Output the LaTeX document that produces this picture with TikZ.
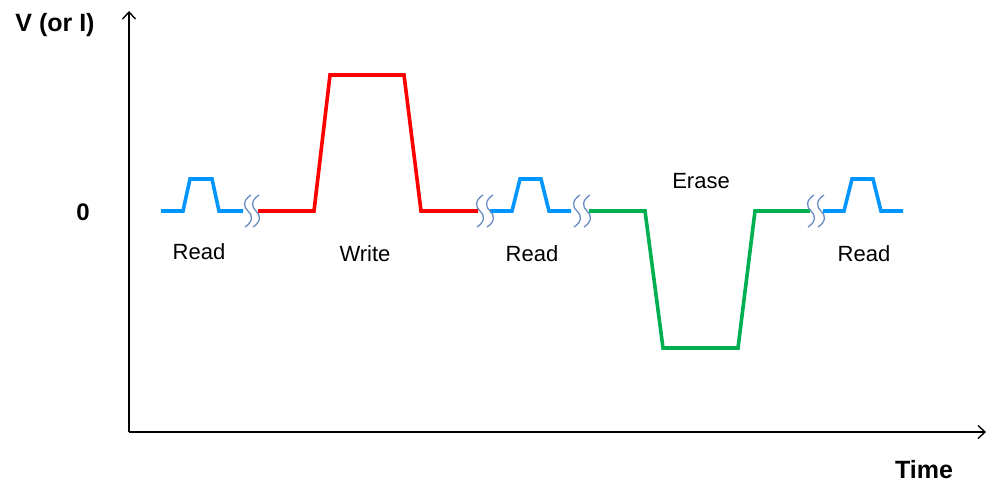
\documentclass[tikz,border=0pt]{standalone}
\usepackage{fontspec}
\setmainfont{Liberation Sans}
\usetikzlibrary{arrows.meta}

\definecolor{readblue}{RGB}{0,150,255}
\definecolor{writered}{RGB}{255,0,0}
\definecolor{erasegreen}{RGB}{0,176,80}
\definecolor{breakblue}{RGB}{105,140,195}

\tikzset{
  axis/.style={line width=1.4pt, -{Straight Barb[length=7pt,width=13pt,line width=1.4pt]}},
  pulse/.style={line width=3.6pt, line join=miter},
  readpulse/.style={pulse, draw=readblue},
  writepulse/.style={pulse, draw=writered},
  erasepulse/.style={pulse, draw=erasegreen},
  brk/.style={draw=breakblue, line width=1.3pt},
  lbl/.style={font=\fontsize{22}{26}\selectfont, inner sep=0pt},
  axlbl/.style={font=\fontsize{25}{29}\selectfont\bfseries, inner sep=0pt}
}

% a small "S" shaped break mark centred at x = #1 on the zero level
\newcommand{\breakmark}[1]{%
  \draw[brk] (#1+3,195) .. controls (#1-5,200) and (#1-5,207) .. (#1,211)
                        .. controls (#1+5,215) and (#1+5,222) .. (#1-3,227);}

\begin{document}
\begin{tikzpicture}[x=1pt,y=-1pt]
  \useasboundingbox (0,0) rectangle (987,484);

  % axes
  \coordinate (origin) at (129,432);
  \coordinate (ytip) at (129,11);
  \coordinate (xtip) at (986,432);
  \draw[axis] (origin) -- (ytip);
  \draw[axis] (origin) -- (xtip);

  % axis labels
  \node[axlbl] (vlabel) at (55,25) {V (or I)};
  \node[axlbl, font=\fontsize{24}{28}\selectfont\bfseries] (zero) at (83,212) {0};
  \node[axlbl] (tlabel) at (924,470) {Time};

  % read pulses
  \draw[readpulse] (161,211) -- (183,211) -- (190,179) -- (212,179) -- (219,211) -- (243,211);
  \draw[readpulse] (490,211) -- (512,211) -- (520,179) -- (541,179) -- (549,211) -- (571,211);
  \draw[readpulse] (823,211) -- (844,211) -- (852,179) -- (873,179) -- (881,211) -- (903,211);

  % write pulse
  \draw[writepulse] (258,211) -- (314,211) -- (330,75) -- (404,75) -- (421,211) -- (478,211);

  % erase pulse
  \draw[erasepulse] (589,211) -- (645,211) -- (663,348) -- (738,348) -- (755,211) -- (810,211);

  % time breaks between the pulses
  \breakmark{248}\breakmark{256}
  \breakmark{480}\breakmark{490}
  \breakmark{577}\breakmark{587}
  \breakmark{811}\breakmark{821}

  % pulse labels
  \node[lbl] (read1) at (199,252) {Read};
  \node[lbl] (write) at (365,254) {Write};
  \node[lbl] (read2) at (532,254) {Read};
  \node[lbl] (erase) at (701,181) {Erase};
  \node[lbl] (read3) at (864,254) {Read};
\end{tikzpicture}
\end{document}
